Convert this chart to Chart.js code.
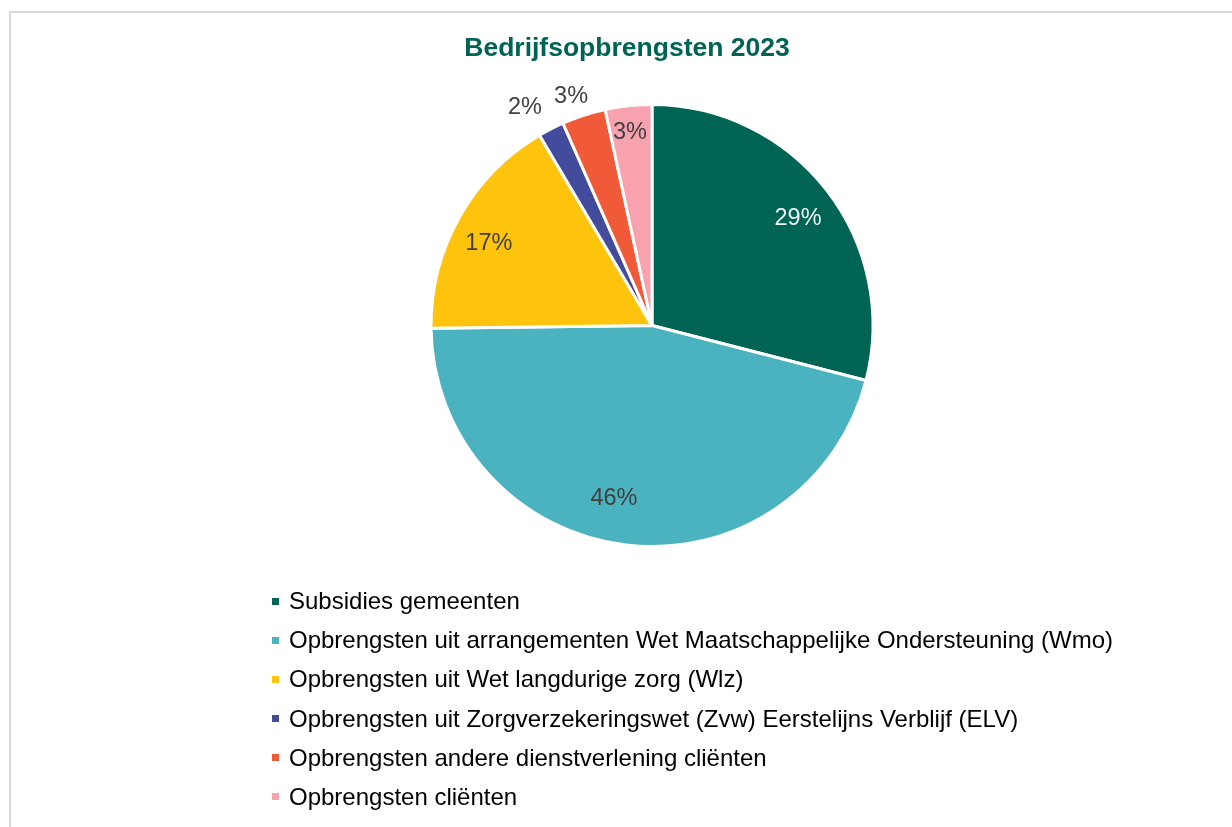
<!DOCTYPE html>
<html>
<head>
<meta charset="utf-8">
<script src="https://cdn.jsdelivr.net/npm/chart.js@4"></script>
<style>
  html, body { margin: 0; padding: 0; background: #fff; overflow: hidden; width: 1232px; height: 827px; }
  #frame { position: absolute; left: 9px; top: 11px; width: 1300px; height: 900px; border: 2px solid #d9d9d9; box-sizing: border-box; }
  #wrap { position: absolute; left: 12px; top: 13px; width: 1230px; height: 814px; }
  #title { position: absolute; left: 12px; top: 31px; width: 1230px; text-align: center; font-family: "Liberation Sans", Arial, sans-serif; font-size: 26.5px; font-weight: bold; line-height: 32px; color: #006455; white-space: nowrap; }
  #legend { position: absolute; left: 272px; top: 581px; font-family: "Liberation Sans", Arial, sans-serif; font-size: 24px; color: #000; }
  #legend .item { height: 39.2px; line-height: 39.2px; white-space: nowrap; position: relative; padding-left: 17px; }
  #legend .box { position: absolute; left: 0; top: 16.5px; width: 7px; height: 7px; }
</style>
</head>
<body>
<div id="frame"></div>
<div id="wrap"><canvas id="c"></canvas></div>
<div id="title"></div>
<div id="legend"></div>
<script>
const categories = [
  "Subsidies gemeenten",
  "Opbrengsten uit arrangementen Wet Maatschappelijke Ondersteuning (Wmo)",
  "Opbrengsten uit Wet langdurige zorg (Wlz)",
  "Opbrengsten uit Zorgverzekeringswet (Zvw) Eerstelijns Verblijf (ELV)",
  "Opbrengsten andere dienstverlening cliënten",
  "Opbrengsten cliënten"
];
const shares = [29.0, 45.8, 16.7, 1.9, 3.2, 3.4];
const colors = ["#006455", "#4bb2bf", "#fec30d", "#434c9c", "#f15a38", "#f7a2ae"];
const labelColors = ["#f2f2f2", "#404040", "#404040", "#404040", "#404040", "#404040"];
const titleText = "Bedrijfsopbrengsten 2023";

// label placement: radial fraction of outer radius and angular nudge (degrees)
const labelRadius = [0.818, 0.80, 0.826, 1.14, 1.097, 0.877];
const labelNudge = [1.7, 5.6, -2.7, -3.1, -1.5, -0.4];

const pctLabels = {
  id: 'pctLabels',
  afterDatasetsDraw(chart) {
    const ctx = chart.ctx;
    const meta = chart.getDatasetMeta(0);
    const data = chart.data.datasets[0].data;
    const total = data.reduce((a, b) => a + b, 0);
    ctx.save();
    ctx.font = '23.5px "Liberation Sans", Arial, sans-serif';
    ctx.textAlign = 'center';
    ctx.textBaseline = 'middle';
    meta.data.forEach((arc, i) => {
      const p = arc.getProps(['x', 'y', 'startAngle', 'endAngle', 'outerRadius'], true);
      const mid = (p.startAngle + p.endAngle) / 2 + labelNudge[i] * Math.PI / 180;
      const r = p.outerRadius * labelRadius[i];
      const x = p.x + Math.cos(mid) * r;
      const y = p.y + Math.sin(mid) * r;
      ctx.fillStyle = labelColors[i];
      ctx.fillText(Math.round(data[i] / total * 100) + '%', x, y);
    });
    ctx.restore();
  }
};

document.getElementById('title').textContent = titleText;

const chart = new Chart(document.getElementById('c'), {
  type: 'pie',
  data: {
    labels: categories,
    datasets: [{
      data: shares,
      backgroundColor: colors,
      borderColor: '#ffffff',
      borderWidth: 3
    }]
  },
  options: {
    responsive: true,
    maintainAspectRatio: false,
    animation: false,
    layout: { padding: { left: 50, right: 0, top: 90, bottom: 279 } },
    plugins: {
      legend: { display: false },
      tooltip: { enabled: false },
      title: { display: false }
    }
  },
  plugins: [pctLabels]
});

const legend = document.getElementById('legend');
chart.data.labels.forEach((lab, i) => {
  const item = document.createElement('div');
  item.className = 'item';
  const box = document.createElement('span');
  box.className = 'box';
  box.style.background = chart.data.datasets[0].backgroundColor[i];
  item.appendChild(box);
  item.appendChild(document.createTextNode(lab));
  legend.appendChild(item);
});
</script>
</body>
</html>
